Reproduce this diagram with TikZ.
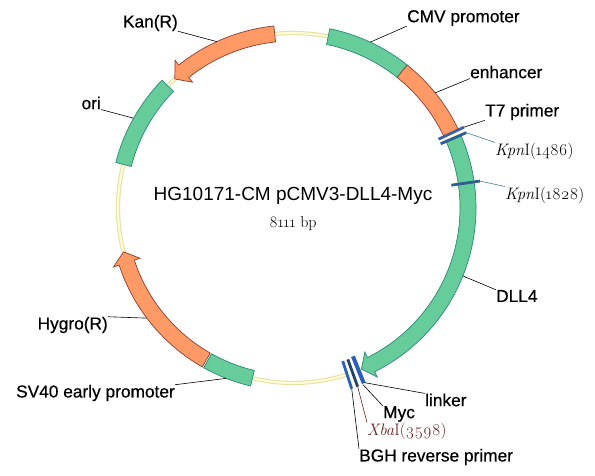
\documentclass[tikz,border=0pt]{standalone}
\usepackage{fontspec}
\setmainfont{Liberation Sans}
\newfontfamily\labelfont[RawFeature={embolden=0.5}]{Liberation Sans}
\newfontfamily\enzfont{Latin Modern Roman}
\usepackage{xcolor}
\usepackage{tikz}
\usetikzlibrary{positioning, calc}
\definecolor{genegreen}{HTML}{66CC99}
\definecolor{geneedge}{HTML}{2A8A78}
\definecolor{geneorange}{HTML}{FF9966}
\definecolor{resedge}{HTML}{8A4030}
\definecolor{ringedge}{HTML}{E6DFA0}
\definecolor{ringfill}{HTML}{FDFBD8}
\definecolor{kpncol}{HTML}{2F5F90}
\definecolor{kpnline}{HTML}{3F8090}
\definecolor{t7col}{HTML}{4060A0}
\definecolor{sitecol}{HTML}{2A60BC}
\definecolor{xbacol}{HTML}{6B1F1F}
\tikzstyle{gene} = [draw=geneedge, fill=genegreen, line width=0.7pt, line join=miter]
\tikzstyle{res} = [draw=resedge, fill=geneorange, line width=0.7pt, line join=miter]
\tikzstyle{label} = [inner sep=0pt, font=\labelfont\fontsize{17.3}{18}\selectfont]
\tikzstyle{enzyme} = [inner sep=0pt, font=\enzfont\fontsize{16.6}{18}\selectfont]
\tikzstyle{leader} = [draw=black, line width=0.6pt]
\tikzstyle{tick} = [line width=2.8pt]
% body of a feature: from angle #2 to angle #3
\newcommand{\featbody}[3]{\draw [#1] (#2:167) arc (#2:#3:167) -- (#3:183) arc (#3:#2:183) -- cycle;}
% same, with head: base at #3, tip at #4
\newcommand{\featarrow}[4]{\draw [#1] (#2:167) arc (#2:#3:167) -- (#3:161) -- (#4:175) -- (#3:189) -- (#3:183) arc (#3:#2:183) -- cycle;}
\newcommand{\enzname}[3]{\textit{#1}#2(\oldstylenums{#3})}
\begin{document}
\begin{tikzpicture}[x=1pt, y=1pt]
\useasboundingbox (-293,-268) rectangle (302,208);

% backbone
\foreach \a/\b in {78/96, 131/136, 165/195, 257/288} {
  \draw [ringedge, line width=4.2pt] (\a:175) arc (\a:\b:175);
  \draw [ringfill, line width=2.2pt] (\a:175) arc (\a:\b:175);
}

% features
\featbody{gene}{78.4}{51.4}
\featbody{res}{51.4}{25.2}
\featarrow{gene}{23.2}{-63.5}{-67}
\featarrow{res}{96}{128.6}{132.5}
\featbody{gene}{135.7}{165.6}
\featarrow{res}{240.3}{198.2}{194.5}
\featbody{gene}{240.8}{256.6}

% sites
\draw [tick, draw=t7col] (25.3:161) -- (25.3:189);
\draw [tick, draw=kpncol] (23.5:161) -- (23.5:189);
\draw [tick, draw=kpncol] (8.2:160) -- (8.2:189);
\draw [tick, draw=sitecol] (-72:161) -- (-72:190);
\draw [tick, draw=kpncol!70!black] (-70.1:161) -- (-70.1:190);
\draw [tick, line width=4pt, draw=sitecol] (-68:160) -- (-68:189);

% leader ends
\coordinate (cmvpt) at (65:183);
\coordinate (enhpt) at (39:183);
\coordinate (t7pt) at (25.3:189);
\coordinate (kpnapt) at (23.5:189);
\coordinate (kpnbpt) at (8.2:189);
\coordinate (dllpt) at (-21.8:183);
\coordinate (linkerpt) at (-67.6:189);
\coordinate (mycpt) at (-68.4:190);
\coordinate (xbapt) at (-70.1:190);
\coordinate (bghpt) at (-72:190);
\coordinate (svpt) at (248.6:183);
\coordinate (hygpt) at (217:183);
\coordinate (oript) at (150.6:183);
\coordinate (kanpt) at (114.6:183);

% labels
\node (title) [inner sep=1pt, font=\fontsize{19}{22}\selectfont] at (0,12) {HG10171-CM pCMV3-DLL4-Myc};
\node (size) [enzyme, font=\enzfont\fontsize{16}{18}\selectfont] at (0,-16) {\oldstylenums{8111} bp};
\node (cmv) [label, anchor=west] at (114,190) {CMV promoter};
\node (enh) [label, anchor=west] at (177,136) {enhancer};
\node (t7) [label, anchor=west] at (192,96) {T7 primer};
\node (kpna) [enzyme, anchor=west] at (202,57) {\enzname{Kpn}{I}{1486}};
\node (kpnb) [enzyme, anchor=west] at (212,13) {\enzname{Kpn}{I}{1828}};
\node (dll) [label, anchor=west] at (203,-88) {DLL4};
\node (linker) [label, anchor=west] at (132,-192) {linker};
\node (myc) [label, anchor=west] at (90,-206) {Myc};
\node (xba) [enzyme, anchor=west, text=xbacol] at (74,-223) {\enzname{Xba}{I}{3598}};
\node (bgh) [label, anchor=west] at (66,-249) {BGH reverse primer};
\node (sv) [label, anchor=east] at (-118,-185) {SV40 early promoter};
\node (hyg) [label, anchor=east] at (-185,-117) {Hygro(R)};
\node (ori) [label, anchor=east] at (-192,105) {ori};
\node (kan) [label, anchor=east] at (-115,185) {Kan(R)};

% leaders
\draw [leader] (cmvpt) -- (cmv.south west);
\draw [leader] (enhpt) -- (enh.south west);
\draw [leader] (t7pt) -- (t7.south west);
\draw [leader, draw=kpnline] (kpnapt) -- (kpna.north west);
\draw [leader, draw=kpnline] (kpnbpt) -- (kpnb.north west);
\draw [leader] (dllpt) -- (dll.north west);
\draw [leader] (linkerpt) -- (linker.north west);
\draw [leader] (mycpt) -- (myc.north west);
\draw [leader, draw=xbacol] (xbapt) -- (xba.north west);
\draw [leader] (bghpt) -- (bgh.north west);
\draw [leader] (svpt) -- (sv.north east);
\draw [leader] (hygpt) -- (hyg.north east);
\draw [leader] (oript) -- (ori.south east);
\draw [leader] (kanpt) -- (kan.south east);
\end{tikzpicture}
\end{document}
